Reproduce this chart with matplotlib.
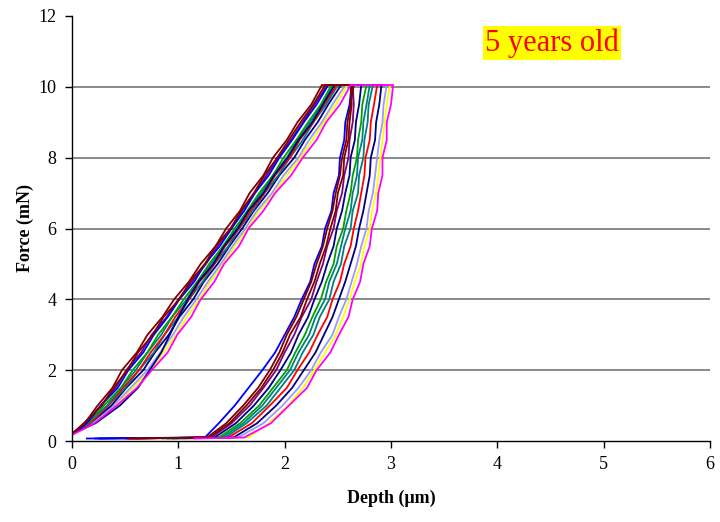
import matplotlib
matplotlib.use("Agg")
import matplotlib.pyplot as plt

# Shared force levels (mN) for the loading and unloading branches
load_force = [0.2, 0.5, 1.0, 1.5, 2.0, 2.5, 3.0, 3.5, 4.0, 4.5, 5.0,
              5.5, 6.0, 6.5, 7.0, 7.5, 8.0, 8.5, 9.0, 9.5, 10.05]
unload_force = [10.05, 9.5, 9.0, 8.5, 8.0, 7.5, 7.0, 6.5, 6.0, 5.5, 5.0,
                4.5, 4.0, 3.5, 3.0, 2.5, 2.0, 1.5, 1.0, 0.5, 0.1]
retract_force = 0.07

# Depth (um) of each indentation at the force levels above
maroon_a_load = [0, 0.12, 0.24, 0.38, 0.47, 0.61, 0.71, 0.85, 0.96, 1.10, 1.21,
                 1.35, 1.45, 1.58, 1.67, 1.80, 1.89, 2.02, 2.12, 2.25, 2.35]
maroon_a_unload = [2.65, 2.62, 2.59, 2.58, 2.54, 2.52, 2.48, 2.45, 2.40, 2.36, 2.30,
                   2.25, 2.18, 2.11, 2.02, 1.95, 1.86, 1.75, 1.61, 1.45, 1.27]

maroon_b_load = [0, 0.11, 0.28, 0.39, 0.52, 0.62, 0.76, 0.86, 1.01, 1.11, 1.25,
                 1.35, 1.49, 1.59, 1.71, 1.81, 1.93, 2.04, 2.15, 2.27, 2.38]
maroon_b_unload = [2.62, 2.63, 2.61, 2.60, 2.56, 2.55, 2.50, 2.48, 2.43, 2.39, 2.33,
                   2.28, 2.21, 2.15, 2.05, 1.98, 1.89, 1.78, 1.64, 1.48, 1.29]

purple_load = [0, 0.13, 0.27, 0.41, 0.51, 0.65, 0.75, 0.89, 1.00, 1.13, 1.26,
               1.37, 1.50, 1.60, 1.72, 1.83, 1.94, 2.06, 2.17, 2.28, 2.40]
purple_unload = [2.64, 2.65, 2.64, 2.61, 2.60, 2.56, 2.54, 2.49, 2.46, 2.40, 2.36,
                 2.30, 2.25, 2.16, 2.09, 2.00, 1.92, 1.80, 1.67, 1.50, 1.31]

blue_load = [0, 0.14, 0.27, 0.43, 0.53, 0.67, 0.77, 0.90, 1.01, 1.15, 1.25,
             1.39, 1.50, 1.62, 1.72, 1.85, 1.95, 2.07, 2.18, 2.30, 2.41]
blue_unload = [2.63, 2.61, 2.57, 2.56, 2.52, 2.51, 2.46, 2.44, 2.38, 2.35, 2.28,
               2.24, 2.16, 2.09, 2.00, 1.91, 1.79, 1.66, 1.53, 1.38, 1.25]

navy_a_load = [0, 0.22, 0.45, 0.62, 0.73, 0.84, 0.92, 1.00, 1.09, 1.19, 1.33,
               1.43, 1.56, 1.66, 1.80, 1.90, 2.03, 2.13, 2.26, 2.36, 2.47]
navy_a_unload = [2.72, 2.70, 2.67, 2.66, 2.62, 2.61, 2.57, 2.54, 2.49, 2.46, 2.40,
                 2.35, 2.28, 2.22, 2.13, 2.06, 1.96, 1.85, 1.71, 1.54, 1.34]

green_load = [0, 0.15, 0.30, 0.46, 0.57, 0.71, 0.81, 0.94, 1.05, 1.18, 1.29,
              1.42, 1.53, 1.65, 1.76, 1.89, 1.99, 2.11, 2.22, 2.34, 2.44]
green_unload = [2.77, 2.73, 2.72, 2.69, 2.68, 2.64, 2.62, 2.58, 2.55, 2.49, 2.46,
                2.39, 2.34, 2.26, 2.19, 2.10, 2.02, 1.89, 1.76, 1.58, 1.38]

teal_a_load = [0, 0.14, 0.33, 0.46, 0.60, 0.71, 0.84, 0.94, 1.08, 1.18, 1.31,
               1.42, 1.55, 1.65, 1.78, 1.89, 2.02, 2.12, 2.24, 2.35, 2.46]
teal_a_unload = [2.80, 2.77, 2.74, 2.73, 2.69, 2.68, 2.64, 2.62, 2.57, 2.53, 2.49,
                 2.42, 2.38, 2.29, 2.23, 2.13, 2.05, 1.92, 1.79, 1.61, 1.41]

teal_b_load = [0, 0.17, 0.34, 0.50, 0.63, 0.77, 0.87, 1.00, 1.10, 1.23, 1.34,
               1.47, 1.57, 1.70, 1.81, 1.94, 2.05, 2.17, 2.27, 2.39, 2.50]
teal_b_unload = [2.83, 2.79, 2.78, 2.75, 2.74, 2.70, 2.69, 2.64, 2.62, 2.56, 2.53,
                 2.46, 2.42, 2.33, 2.27, 2.17, 2.09, 1.96, 1.83, 1.64, 1.44]

red_load = [0, 0.16, 0.34, 0.48, 0.63, 0.74, 0.87, 0.97, 1.10, 1.20, 1.34,
            1.44, 1.57, 1.68, 1.81, 1.91, 2.05, 2.14, 2.27, 2.37, 2.49]
red_unload = [2.87, 2.84, 2.81, 2.80, 2.76, 2.75, 2.72, 2.69, 2.65, 2.62, 2.56,
              2.52, 2.45, 2.40, 2.31, 2.23, 2.12, 2.02, 1.86, 1.69, 1.47]

navy_b_load = [0, 0.17, 0.37, 0.51, 0.67, 0.78, 0.91, 1.01, 1.14, 1.24, 1.37,
               1.48, 1.60, 1.71, 1.84, 1.95, 2.09, 2.19, 2.31, 2.41, 2.53]
navy_b_unload = [2.91, 2.89, 2.86, 2.85, 2.81, 2.80, 2.77, 2.74, 2.70, 2.67, 2.62,
                 2.57, 2.51, 2.45, 2.37, 2.29, 2.18, 2.07, 1.92, 1.74, 1.52]

lavender_load = [0, 0.18, 0.39, 0.55, 0.71, 0.83, 0.95, 1.05, 1.17, 1.28, 1.40,
                 1.51, 1.63, 1.74, 1.88, 1.99, 2.13, 2.23, 2.35, 2.45, 2.57]
lavender_unload = [2.96, 2.93, 2.92, 2.89, 2.87, 2.85, 2.83, 2.79, 2.77, 2.72, 2.68,
                   2.63, 2.58, 2.51, 2.45, 2.34, 2.25, 2.13, 1.98, 1.80, 1.56]

yellow_load = [0, 0.19, 0.41, 0.57, 0.74, 0.86, 0.98, 1.08, 1.20, 1.30, 1.42,
               1.53, 1.65, 1.76, 1.90, 2.02, 2.15, 2.26, 2.37, 2.48, 2.59]
yellow_unload = [2.99, 2.96, 2.94, 2.92, 2.90, 2.88, 2.86, 2.82, 2.80, 2.75, 2.72,
                 2.66, 2.61, 2.55, 2.48, 2.38, 2.28, 2.17, 2.03, 1.85, 1.66]

magenta_load = [0.02, 0.21, 0.42, 0.61, 0.75, 0.90, 0.99, 1.12, 1.21, 1.34, 1.43,
                1.57, 1.66, 1.80, 1.91, 2.06, 2.17, 2.30, 2.39, 2.52, 2.62]
magenta_unload = [3.02, 3.00, 2.96, 2.96, 2.92, 2.92, 2.88, 2.87, 2.82, 2.80, 2.74,
                  2.71, 2.64, 2.60, 2.51, 2.43, 2.30, 2.21, 2.04, 1.87, 1.62]

# Depth the tip returns to after unloading
retract_depth = {
    "yellow": 1.10, "lavender": 1.05, "navy_b": 0.26, "teal_b": 0.95,
    "red": 0.50, "teal_a": 0.90, "green": 0.85, "navy_a": 0.22,
    "purple": 0.55, "blue": 0.14, "maroon_b": 0.53, "maroon_a": 0.60,
    "magenta": 1.15,
}

curves = [
    ("yellow", "#FFFF00", yellow_load, yellow_unload),
    ("lavender", "#9999FF", lavender_load, lavender_unload),
    ("navy_b", "#000080", navy_b_load, navy_b_unload),
    ("teal_b", "#008080", teal_b_load, teal_b_unload),
    ("red", "#FF0000", red_load, red_unload),
    ("teal_a", "#008080", teal_a_load, teal_a_unload),
    ("green", "#00A000", green_load, green_unload),
    ("navy_a", "#000080", navy_a_load, navy_a_unload),
    ("purple", "#800080", purple_load, purple_unload),
    ("blue", "#0000FF", blue_load, blue_unload),
    ("maroon_b", "#800000", maroon_b_load, maroon_b_unload),
    ("maroon_a", "#800000", maroon_a_load, maroon_a_unload),
    ("magenta", "#FF00FF", magenta_load, magenta_unload),
]

serif = ["Liberation Serif", "DejaVu Serif"]

fig = plt.figure(figsize=(7.2, 5.22), dpi=100)
ax = fig.add_axes([72 / 720, 1 - 441 / 522, 638 / 720, 425 / 522])

for y in [2, 4, 6, 8, 10]:
    ax.axhline(y, color="#808080", linewidth=1.3, zorder=0)

for name, color, load, unload in curves:
    depth = list(load) + list(unload) + [retract_depth[name]]
    force = list(load_force) + list(unload_force) + [retract_force]
    ax.plot(depth, force, color=color, linewidth=1.3, zorder=2,
            solid_joinstyle="miter")

ax.set_xlim(0, 6)
ax.set_ylim(0, 12)
ax.set_xticks(range(0, 7))
ax.set_yticks(range(0, 13, 2))
for side in ("top", "right"):
    ax.spines[side].set_visible(False)
for side in ("left", "bottom"):
    ax.spines[side].set_linewidth(1.0)
ax.tick_params(direction="out", length=5, width=1.0, labelsize=13, pad=6)
for lab in ax.get_xticklabels() + ax.get_yticklabels():
    lab.set_family(serif)

ax.set_xlabel("Depth (\u03bcm)", fontsize=13, fontweight="bold", family=serif, labelpad=12)
ax.set_ylabel("Force (mN)", fontsize=13, fontweight="bold", family=serif, labelpad=3)

ax.text(4.515, 11.24, "5 years old", color="#FF0000", fontsize=22, family=serif,
        ha="center", va="center",
        bbox=dict(facecolor="#FFFF00", edgecolor="none", pad=1.5))

fig.savefig("out.png", dpi=100)
